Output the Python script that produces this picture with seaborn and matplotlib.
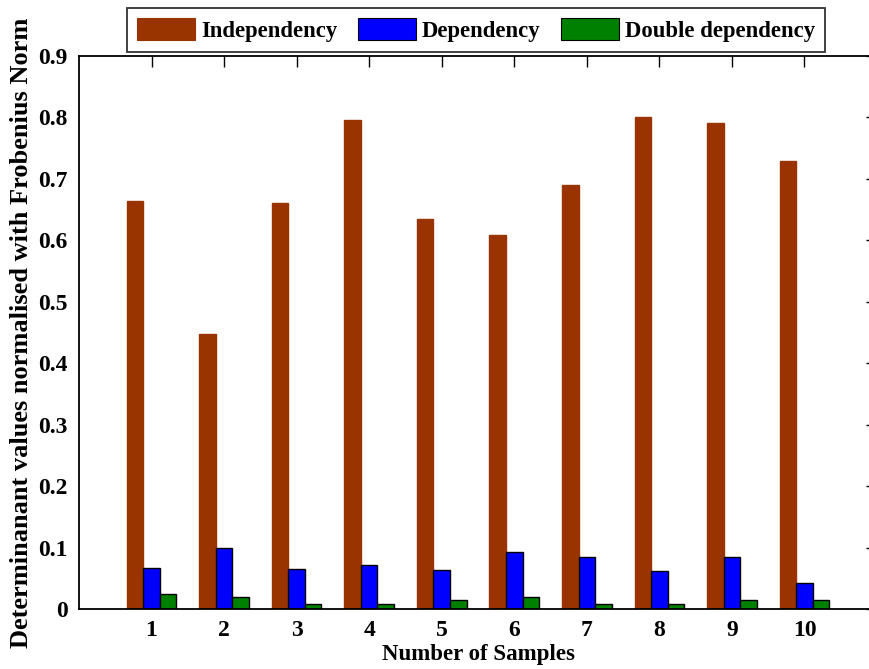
import matplotlib
matplotlib.use("Agg")
import matplotlib.pyplot as plt
import seaborn as sns
import pandas as pd
from matplotlib.patches import Patch

samples = ["1", "2", "3", "4", "5", "6", "7", "8", "9", "10"]
independency = [0.664, 0.448, 0.661, 0.796, 0.635, 0.608, 0.690, 0.801, 0.791, 0.729]
dependency = [0.0675, 0.0995, 0.065, 0.0715, 0.0635, 0.093, 0.085, 0.062, 0.085, 0.042]
double_dependency = [0.024, 0.019, 0.0085, 0.008, 0.0145, 0.019, 0.0085, 0.008, 0.0145, 0.014]
series_names = ["Independency", "Dependency", "Double dependency"]
colors = ["#993300", "#0000FF", "#008000"]
edge_colors = ["#993300", "black", "black"]
yticks = [0, 0.1, 0.2, 0.3, 0.4, 0.5, 0.6, 0.7, 0.8, 0.9]
ytick_labels = ["0", "0.1", "0.2", "0.3", "0.4", "0.5", "0.6", "0.7", "0.8", "0.9"]

df = pd.DataFrame({
    "Sample": samples * 3,
    "Value": independency + dependency + double_dependency,
    "Series": [series_names[0]] * 10 + [series_names[1]] * 10 + [series_names[2]] * 10,
})

sns.set_style("white")
plt.rcParams["font.family"] = ["Liberation Serif", "DejaVu Serif"]
plt.rcParams["font.weight"] = "bold"
plt.rcParams["text.color"] = "black"
plt.rcParams["axes.labelcolor"] = "black"
plt.rcParams["xtick.color"] = "black"
plt.rcParams["ytick.color"] = "black"

fig = plt.figure(figsize=(8.69, 6.69), dpi=100)
ax = fig.add_axes([79 / 869, 1 - 609 / 669, (877 - 79) / 869, (609 - 56) / 669])

sns.barplot(data=df, x="Sample", y="Value", hue="Series", order=samples,
            hue_order=series_names, palette=colors, width=0.685,
            edgecolor="black", linewidth=1.0, saturation=1, ax=ax, legend=False)

# brown bars have no dark outline in the reference
for cont, ec in zip(ax.containers, edge_colors):
    for bar in cont:
        bar.set_edgecolor(ec)

ax.set_xlim(-1, 10)
ax.set_ylim(0, 0.9)
ax.set_yticks(yticks)
ax.set_yticklabels(ytick_labels)
for s in ax.spines.values():
    s.set_visible(True)
    s.set_linewidth(1.3)
    s.set_color("black")
ax.tick_params(axis="both", direction="in", length=8, width=1, top=True, right=True,
               labelsize=17, pad=8, colors="black")
for lab in ax.get_xticklabels() + ax.get_yticklabels():
    lab.set_fontweight("bold")
ax.set_xlabel("Number of Samples", fontsize=16.5, fontweight="bold", labelpad=2)
ax.set_ylabel("Determinanant values normalised with Frobenius Norm", fontsize=19,
              fontweight="bold", labelpad=4)

handles = [Patch(facecolor=c, edgecolor=ec, linewidth=0.8) for c, ec in zip(colors, edge_colors)]
leg = fig.legend(handles, series_names, loc="center", bbox_to_anchor=(476 / 869, 1 - 30 / 669),
                 ncol=3, frameon=True, fancybox=False, edgecolor="black",
                 prop={"size": 16.4, "weight": "bold"}, handlelength=2.55, handleheight=1.1,
                 handletextpad=0.26, columnspacing=0.9, borderpad=0.45)
leg.get_frame().set_linewidth(1.3)

fig.savefig("out.png", dpi=100)
